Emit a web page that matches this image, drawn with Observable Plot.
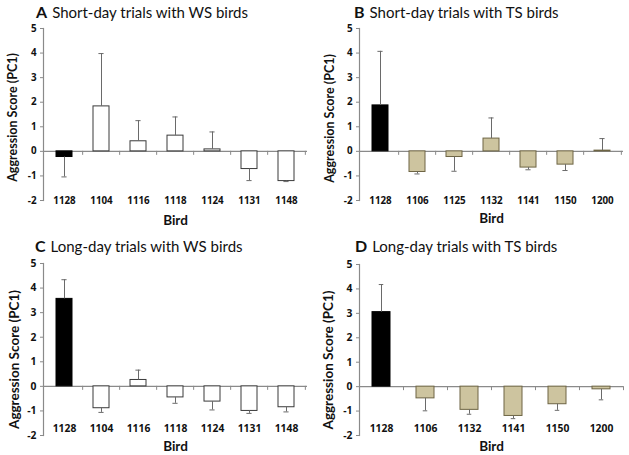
<!DOCTYPE html>
<html>
<head>
<meta charset="utf-8">
<script src="https://cdn.jsdelivr.net/npm/d3@7"></script>
<script src="https://cdn.jsdelivr.net/npm/@observablehq/plot@0.6"></script>
<style>
  html, body { margin: 0; padding: 0; background: #fff; }
  #wrap { position: relative; width: 629px; height: 455px; overflow: hidden; font-family: Lato, "Open Sans", sans-serif; }
  .panel { position: absolute; }
  .panel svg text { font-weight: 700 !important; }
  .panel svg g[aria-label$="tick label"] { font-family: "Open Sans", sans-serif; }
  .title { position: absolute; font-family: Lato, sans-serif; font-size: 15px; line-height: 18px; color: #111; white-space: nowrap; }
  .title b { font-size: 16px; margin-right: 5px; }
</style>
</head>
<body>
<div id="wrap"></div>
<script>
// ---- data ----
const yTicks = [-2, -1, 0, 1, 2, 3, 4, 5];

const catsA = ["1128", "1104", "1116", "1118", "1124", "1131", "1148"];
const valsA = [-0.23, 1.83, 0.41, 0.64, 0.08, -0.72, -1.21];
const errsA = [-1.04, 3.98, 1.25, 1.40, 0.79, -1.19, -1.23];
const kindA = ["focal", "WS", "WS", "WS", "WS", "WS", "WS"];

const catsB = ["1128", "1106", "1125", "1132", "1141", "1150", "1200"];
const valsB = [1.87, -0.84, -0.23, 0.52, -0.66, -0.54, 0.03];
const errsB = [4.07, -0.92, -0.81, 1.36, -0.75, -0.78, 0.52];
const kindB = ["focal", "TS", "TS", "TS", "TS", "TS", "TS"];

const catsC = ["1128", "1104", "1116", "1118", "1124", "1131", "1148"];
const valsC = [3.56, -0.89, 0.26, -0.45, -0.62, -1.00, -0.85];
const errsC = [4.34, -1.06, 0.66, -0.69, -0.96, -1.10, -1.04];
const kindC = ["focal", "WS", "WS", "WS", "WS", "WS", "WS"];

const catsD = ["1128", "1106", "1132", "1141", "1150", "1200"];
const valsD = [3.05, -0.48, -0.95, -1.20, -0.72, -0.11];
const errsD = [4.18, -0.99, -1.13, -1.31, -0.97, -0.54];
const kindD = ["focal", "TS", "TS", "TS", "TS", "TS"];

const titles = [
  ["A", "Short-day trials with WS birds"],
  ["B", "Short-day trials with TS birds"],
  ["C", "Long-day trials with WS birds"],
  ["D", "Long-day trials with TS birds"]
];

// ---- styles ----
const fillOf = {focal: "#000000", WS: "#ffffff", TS: "#cdc49f"};
const strokeOf = {focal: "#000000", WS: "#3a3a3a", TS: "#6e6544"};
const axisColor = "#8a8a8a";
const errColor = "#6a6a6a";

function panel(cfg) {
  const {cats, vals, errs, kinds, w, h, mt, mb, ml, mr, tickFs, yLabFs, xPad, birdDy, yLabX, yLabDy} = cfg;
  const data = cats.map((c, i) => ({bird: c, v: vals[i], e: errs[i], k: kinds[i]}));
  const n = cats.length;
  const step = (w - ml - mr) / n;
  const bw = step * 0.42;
  const capInset = bw / 2 - 2.5;
  const bounds = cats.slice(1).map(c => ({bird: c, dx: -step / 2})).concat([{bird: cats[n - 1], dx: step / 2}]);
  const tickLen = 4 / ((h - mt - mb) / 7);
  return Plot.plot({
    width: w, height: h,
    marginTop: mt, marginBottom: mb, marginLeft: ml, marginRight: mr,
    style: {fontFamily: "Lato, sans-serif", color: "#111", background: "transparent"},
    x: {domain: cats, paddingInner: 0.58, paddingOuter: 0.29, axis: null},
    y: {domain: [-2, 5], axis: null},
    color: {type: "identity"},
    marks: [
      Plot.ruleY([0], {stroke: axisColor, strokeWidth: 1.2}),
      ...bounds.map(b => Plot.ruleX([b], {x: "bird", y1: 0, y2: -tickLen, dx: b.dx, stroke: axisColor})),
      Plot.barY(data, {x: "bird", y: "v", fill: d => fillOf[d.k], stroke: d => strokeOf[d.k], strokeWidth: 1}),
      Plot.ruleX(data, {x: "bird", y1: "v", y2: "e", stroke: errColor, strokeWidth: 1}),
      Plot.tickY(data, {x: "bird", y: "e", stroke: errColor, strokeWidth: 1, insetLeft: capInset, insetRight: capInset}),
      Plot.frame({anchor: "left", stroke: axisColor, strokeWidth: 1.2}),
      Plot.axisY({ticks: yTicks, tickSize: 3, tickPadding: 4, tickFormat: d => String(d), fontSize: tickFs, fontWeight: "bold", label: null, stroke: axisColor, color: "#111"}),
      Plot.axisX({tickSize: 0, tickPadding: xPad, fontSize: tickFs, fontWeight: "bold", label: null}),
      Plot.text(["Bird"], {frameAnchor: "bottom", lineAnchor: "middle", dy: birdDy, fontSize: 13.5, fontWeight: "bold", fill: "#111"}),
      Plot.text(["Aggression Score (PC1)"], {frameAnchor: "left", rotate: -90, textAnchor: "middle", lineAnchor: "middle", dx: yLabX - ml, dy: yLabDy, fontSize: yLabFs, fontWeight: "bold", fill: "#111"})
    ]
  });
}

const wrap = document.getElementById("wrap");
const panels = [
  {cats: catsA, vals: valsA, errs: errsA, kinds: kindA, left: 0, top: 0, w: 314, h: 228, mt: 28, mb: 28, ml: 43, mr: 7, tickFs: 9.8, yLabFs: 12.5, xPad: -3, birdDy: 20, yLabX: 12, yLabDy: 3, tx: 36, ty: 3},
  {cats: catsB, vals: valsB, errs: errsB, kinds: kindB, left: 314, top: 0, w: 315, h: 228, mt: 28, mb: 28, ml: 45, mr: 6, tickFs: 9.8, yLabFs: 12.5, xPad: -3, birdDy: 18, yLabX: 15, yLabDy: 4, tx: 40, ty: 3},
  {cats: catsC, vals: valsC, errs: errsC, kinds: kindC, left: 0, top: 228, w: 314, h: 227, mt: 35, mb: 20, ml: 43, mr: 7, tickFs: 10.3, yLabFs: 13.5, xPad: -11, birdDy: 11, yLabX: 14, yLabDy: 10, tx: 35, ty: 9},
  {cats: catsD, vals: valsD, errs: errsD, kinds: kindD, left: 314, top: 228, w: 315, h: 227, mt: 36, mb: 20, ml: 45, mr: 6, tickFs: 10.3, yLabFs: 13.5, xPad: -11, birdDy: 11, yLabX: 14, yLabDy: 10, tx: 41, ty: 9}
];

panels.forEach((cfg, i) => {
  const holder = document.createElement("div");
  holder.className = "panel";
  holder.style.left = cfg.left + "px";
  holder.style.top = cfg.top + "px";
  holder.appendChild(panel(cfg));
  wrap.appendChild(holder);
  const t = document.createElement("div");
  t.className = "title";
  t.style.left = (cfg.left + cfg.tx) + "px";
  t.style.top = (cfg.top + cfg.ty) + "px";
  const b = document.createElement("b");
  b.textContent = titles[i][0];
  t.appendChild(b);
  t.appendChild(document.createTextNode(titles[i][1]));
  wrap.appendChild(t);
});
</script>
</body>
</html>
